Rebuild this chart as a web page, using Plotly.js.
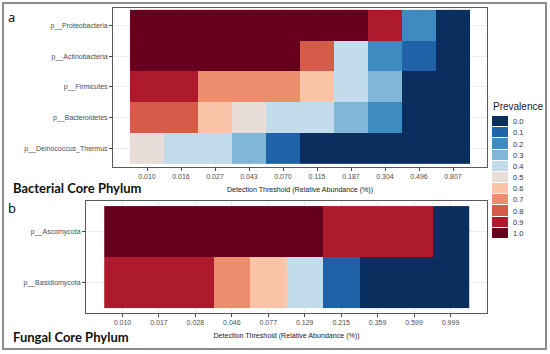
<!DOCTYPE html>
<html>
<head>
<meta charset="utf-8">
<script src="https://cdn.plot.ly/plotly-3.0.1.min.js"></script>
<style>html,body{margin:0;padding:0;background:#fff;}#chart{width:550px;height:354px;}</style>
</head>
<body>
<div id="chart"></div>
<script>
// ---- data ----
const bactThresholds = ['0.010','0.016','0.027','0.043','0.070','0.115','0.187','0.304','0.496','0.807'];
const bactPhyla = ['p__Deinococcus_Thermus','p__Bacteroidetes','p__Firmicutes','p__Actinobacteria','p__Proteobacteria'];
const deinococcus    = [0.5,0.4,0.4,0.3,0.1,0.0,0.0,0.0,0.0,0.0];
const bacteroidetes  = [0.8,0.8,0.6,0.5,0.4,0.4,0.3,0.2,0.0,0.0];
const firmicutes     = [0.9,0.9,0.7,0.7,0.7,0.6,0.4,0.3,0.0,0.0];
const actinobacteria = [1.0,1.0,1.0,1.0,1.0,0.8,0.4,0.2,0.1,0.0];
const proteobacteria = [1.0,1.0,1.0,1.0,1.0,1.0,1.0,0.9,0.2,0.0];

const fungThresholds = ['0.010','0.017','0.028','0.046','0.077','0.129','0.215','0.359','0.599','0.999'];
const fungPhyla = ['p__Basidiomycota','p__Ascomycota'];
const basidiomycota = [0.9,0.9,0.9,0.7,0.6,0.4,0.1,0.0,0.0,0.0];
const ascomycota    = [1.0,1.0,1.0,1.0,1.0,1.0,0.9,0.9,0.9,0.0];

const prevalenceLevels = [0.0,0.1,0.2,0.3,0.4,0.5,0.6,0.7,0.8,0.9,1.0];
const prevalenceLabels = ['0.0','0.1','0.2','0.3','0.4','0.5','0.6','0.7','0.8','0.9','1.0'];
const prevalenceColors = ['#0a2f5f','#1f62a8','#3d8bc1','#80b6d8','#c2dcec','#e9ddd9','#f9c4a8','#ec8d6d','#d55b4b','#ae1a2d','#67001f'];

// ---- helpers ----
const W = 550, H = 354;
const px = v => v / W;
const py = v => 1 - v / H;
const colorscale = prevalenceLevels.map((v, i) => [v, prevalenceColors[i]]);
const sans = '"Liberation Sans", Arial, sans-serif';
const tickFont = {family: sans, size: 7, color: '#4d4d4d'};
const titleFont = {family: sans, size: 7.1, color: '#1a1a1a'};

const axisCommon = {
  type: 'category', showgrid: true, gridcolor: '#ebebeb', gridwidth: 1,
  showline: true, mirror: true, linecolor: '#5a5a5a', linewidth: 1,
  ticks: 'outside', ticklen: 3, tickcolor: '#444', tickwidth: 1,
  tickfont: tickFont, zeroline: false, fixedrange: true
};

const traces = [
  {
    type: 'heatmap', x: bactThresholds, y: bactPhyla,
    z: [deinococcus, bacteroidetes, firmicutes, actinobacteria, proteobacteria],
    colorscale: colorscale, zmin: 0, zmax: 1, showscale: false,
    xaxis: 'x', yaxis: 'y', hoverinfo: 'x+y+z'
  },
  {
    type: 'heatmap', x: fungThresholds, y: fungPhyla,
    z: [basidiomycota, ascomycota],
    colorscale: colorscale, zmin: 0, zmax: 1, showscale: false,
    xaxis: 'x2', yaxis: 'y2', hoverinfo: 'x+y+z'
  },
  {
    type: 'heatmap', x: ['Prevalence'], y: prevalenceLabels,
    z: prevalenceLevels.map(v => [v]),
    colorscale: colorscale, zmin: 0, zmax: 1, showscale: false, ygap: 1,
    xaxis: 'x3', yaxis: 'y3', hoverinfo: 'y'
  }
];

const layout = {
  width: W, height: H,
  margin: {l: 0, r: 0, t: 0, b: 0},
  paper_bgcolor: '#ffffff', plot_bgcolor: '#ffffff',
  showlegend: false,
  xaxis: Object.assign({}, axisCommon, {
    domain: [px(113), px(487)], range: [-1, 10], anchor: 'y',
    title: {text: 'Detection Threshold (Relative Abundance (%))', font: titleFont, standoff: 7}
  }),
  yaxis: Object.assign({}, axisCommon, {
    domain: [py(167), py(8)], range: [-0.6, 4.56], anchor: 'x'
  }),
  xaxis2: Object.assign({}, axisCommon, {
    domain: [px(86), px(487)], range: [-1, 10], anchor: 'y2',
    title: {text: 'Detection Threshold (Relative Abundance (%))', font: titleFont, standoff: 7}
  }),
  yaxis2: Object.assign({}, axisCommon, {
    domain: [py(313), py(201)], range: [-0.6, 1.6], anchor: 'x2'
  }),
  xaxis3: {
    domain: [px(492), px(508)], anchor: 'y3', type: 'category',
    showgrid: false, showline: false, showticklabels: false, ticks: '', zeroline: false, fixedrange: true
  },
  yaxis3: {
    domain: [py(239), py(116)], anchor: 'x3', type: 'category', side: 'right',
    autorange: 'reversed', showgrid: false, showline: false, ticks: '', zeroline: false,
    tickfont: {family: sans, size: 7.5, color: '#333333'},
    ticklabelstandoff: 4, fixedrange: true
  },
  shapes: [
    {type: 'rect', xref: 'paper', yref: 'paper', x0: px(3), x1: px(546), y0: py(349), y1: py(3),
     line: {color: '#8c8c8c', width: 2}, fillcolor: 'rgba(0,0,0,0)', layer: 'above'}
  ],
  annotations: [
    {text: 'a', xref: 'paper', yref: 'paper', x: px(6), y: py(17), xanchor: 'left', yanchor: 'middle',
     showarrow: false, font: {family: 'Noto Sans, Arial, sans-serif', size: 13, color: '#111'}},
    {text: 'b', xref: 'paper', yref: 'paper', x: px(6), y: py(208), xanchor: 'left', yanchor: 'middle',
     showarrow: false, font: {family: 'Noto Sans, Arial, sans-serif', size: 13, color: '#111'}},
    {text: '<b>Bacterial Core Phylum</b>', xref: 'paper', yref: 'paper', x: px(11), y: py(188), xanchor: 'left', yanchor: 'middle',
     showarrow: false, font: {family: 'Lato, sans-serif', size: 13, color: '#111'}},
    {text: '<b>Fungal Core Phylum</b>', xref: 'paper', yref: 'paper', x: px(11), y: py(337), xanchor: 'left', yanchor: 'middle',
     showarrow: false, font: {family: 'Lato, sans-serif', size: 13, color: '#111'}},
    {text: 'Prevalence', xref: 'paper', yref: 'paper', x: px(491), y: py(107), xanchor: 'left', yanchor: 'middle',
     showarrow: false, font: {family: sans, size: 10, color: '#1a1a1a'}}
  ]
};

Plotly.newPlot('chart', traces, layout, {displayModeBar: false, staticPlot: true});
</script>
</body>
</html>
